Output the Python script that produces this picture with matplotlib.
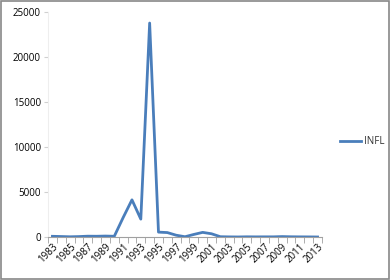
import numpy as np
import matplotlib.pyplot as plt
from matplotlib.patches import Rectangle

# inflation series (INFL)
years = list(range(1983, 2014))
infl = [77, 52, 24, 47, 90, 82, 104, 81, 2154, 4129, 1987, 23773, 542, 492,
        199, 29, 284, 514, 359, 31, 13, 4, 21, 13, 17, 17, 46, 24, 15, 10, 1]

plt.rcParams['font.family'] = ['Open Sans', 'DejaVu Sans']

fig = plt.figure(figsize=(3.9, 2.8), dpi=100)
ax = fig.add_axes([48/390, 1 - 237/280, 274/390, 225/280])

x = np.arange(len(years))
ax.plot(x, infl, color='#4a7ebb', lw=2, label='INFL')

ax.set_xlim(-0.5, len(years) - 0.5)
ax.set_ylim(0, 25000)
ax.set_yticks(range(0, 25001, 5000))
ax.tick_params(axis='y', labelsize=7, length=3, color='#d0d0d0', pad=2)

# category labels on every other year, tick marks between categories
ax.set_xticks(x[::2])
ax.set_xticklabels([str(y) for y in years[::2]], rotation=45, ha='right',
                   rotation_mode='anchor', fontsize=7)
ax.tick_params(axis='x', length=0, pad=3)
ax.set_xticks(np.arange(-0.5, len(years), 1), minor=True)
ax.tick_params(axis='x', which='minor', length=4, color='#a0a0a0')

for s in ['top', 'right']:
    ax.spines[s].set_visible(False)
ax.spines['left'].set_color('#eeeeee')
ax.spines['bottom'].set_color('#a0a0a0')

fig.legend(loc='center left', bbox_to_anchor=(331/390, 1 - 142/280),
           frameon=False, fontsize=7, handlelength=2.2, handletextpad=0.3,
           labelcolor='#333333')

fig.patches.append(Rectangle((0.002, 0.002), 0.996, 0.994, transform=fig.transFigure,
                             fill=False, edgecolor='#888888', lw=1.2))

fig.savefig('out.png', dpi=100)
